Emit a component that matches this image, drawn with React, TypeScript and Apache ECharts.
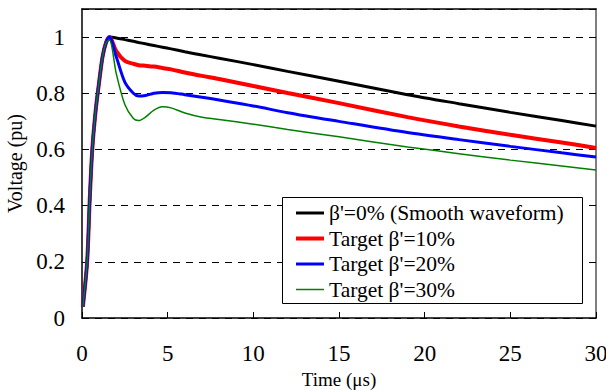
import React, { useEffect, useRef } from "react";
import * as echarts from "echarts";

const times = [0.05, 0.3, 0.45, 0.6, 0.8, 1.0, 1.2, 1.4, 1.6, 2.0, 2.5, 3.0, 3.3, 3.7, 4.2, 4.7, 5.2, 6, 7, 8, 10, 12, 15, 19, 22, 25, 28, 30];

const smooth0 = [0.04, 0.2, 0.42, 0.6, 0.74, 0.84, 0.93, 0.98, 1.0, 0.997, 0.991, 0.985, 0.981, 0.976, 0.97, 0.964, 0.958, 0.948, 0.936, 0.925, 0.902, 0.878, 0.843, 0.795, 0.763, 0.732, 0.703, 0.683];
const target10 = [0.04, 0.2, 0.42, 0.6, 0.74, 0.84, 0.93, 0.98, 1.0, 0.95, 0.915, 0.905, 0.9, 0.898, 0.895, 0.89, 0.885, 0.874, 0.862, 0.851, 0.826, 0.801, 0.765, 0.715, 0.682, 0.652, 0.625, 0.605];
const target20 = [0.04, 0.2, 0.42, 0.6, 0.74, 0.84, 0.93, 0.98, 1.0, 0.93, 0.84, 0.8, 0.79, 0.792, 0.8, 0.803, 0.802, 0.795, 0.786, 0.776, 0.755, 0.731, 0.7, 0.66, 0.635, 0.611, 0.588, 0.573];
const target30 = [0.04, 0.2, 0.42, 0.6, 0.74, 0.84, 0.93, 0.98, 0.99, 0.87, 0.76, 0.71, 0.703, 0.715, 0.74, 0.752, 0.748, 0.73, 0.715, 0.707, 0.69, 0.671, 0.645, 0.609, 0.585, 0.562, 0.541, 0.527];

const seriesNames = ["β'=0% (Smooth waveform)", "Target β'=10%", "Target β'=20%", "Target β'=30%"];
const seriesColors = ["#000000", "#ff0000", "#0000ff", "#008000"];
const seriesWidths = [3, 4, 3, 1.5];
const seriesValues = [smooth0, target10, target20, target30];

const FONT = "Liberation Serif";

export default function App() {
  const ref = useRef<HTMLDivElement>(null);
  useEffect(() => {
    if (!ref.current) return;
    const chart = echarts.init(ref.current, undefined, { renderer: "svg" });
    chart.setOption({
      animation: false,
      backgroundColor: "#ffffff",
      textStyle: { fontFamily: FONT },
      grid: { left: 82, right: 10, top: 9, bottom: 72, outerBoundsMode: "none", containLabel: false },
      xAxis: [
        {
          type: "value",
          min: 0,
          max: 30,
          interval: 5,
          name: "Time (μs)",
          nameLocation: "middle",
          nameGap: 46,
          nameTextStyle: { fontFamily: FONT, fontSize: 19, color: "#000" },
          axisLine: { show: true, lineStyle: { color: "#000", width: 1.5 } },
          axisTick: { show: true, inside: true, length: 6, lineStyle: { color: "#000" } },
          axisLabel: { fontFamily: FONT, fontSize: 23, color: "#000", margin: 24 },
          splitLine: { show: false },
        },
        {
          type: "value",
          position: "top",
          min: 0,
          max: 30,
          interval: 5,
          axisLine: { show: true, onZero: false, lineStyle: { color: "#000", width: 1.5 } },
          axisTick: { show: false },
          axisLabel: { show: false },
          splitLine: { show: false },
        },
      ],
      yAxis: [
        {
          type: "value",
          min: 0,
          max: 1.1,
          interval: 0.2,
          name: "Voltage (pu)",
          nameLocation: "middle",
          nameGap: 55,
          nameTextStyle: { fontFamily: FONT, fontSize: 20, color: "#000" },
          axisLine: { show: true, lineStyle: { color: "#000", width: 1.5 } },
          axisTick: { show: true, inside: true, length: 6, lineStyle: { color: "#000" } },
          axisLabel: { fontFamily: FONT, fontSize: 23, color: "#000", margin: 17, showMaxLabel: false },
          splitLine: { show: true, lineStyle: { color: "#000", type: [7, 6], width: 1 } },
        },
        {
          type: "value",
          position: "right",
          min: 0,
          max: 1.1,
          interval: 0.2,
          axisLine: { show: true, onZero: false, lineStyle: { color: "#808080", width: 2 } },
          axisTick: { show: true, inside: true, length: 6, lineStyle: { color: "#000" } },
          axisLabel: { show: false },
          splitLine: { show: false },
        },
      ],
      legend: {
        left: 296,
        top: 202,
        orient: "vertical",
        padding: 0,
        itemWidth: 28,
        itemHeight: 14,
        itemGap: 3.5,
        z: 10,
        textStyle: { fontFamily: FONT, fontSize: 21.5, color: "#000" },
        data: seriesNames.map((name, i) => ({
          name,
          icon: `path://M0 0H28V${seriesWidths[i]}H0Z`,
          itemStyle: { color: seriesColors[i] },
        })),
      },
      graphic: [
        {
          type: "rect",
          z: 5,
          shape: { x: 282.5, y: 197.5, width: 300, height: 106 },
          style: { fill: "#ffffff", stroke: "#000", lineWidth: 1 },
        },
      ],
      series: seriesNames.map((name, i) => ({
        name,
        type: "line",
        showSymbol: false,
        symbol: "none",
        data: times.map((t, k) => [t, seriesValues[i][k]]),
        smooth: 0.3,
        lineStyle: { color: seriesColors[i], width: seriesWidths[i] },
        itemStyle: { color: seriesColors[i] },
        z: 2 + i * 0.1,
      })),
    });
    return () => chart.dispose();
  }, []);
  return <div ref={ref} style={{ width: 606, height: 390, position: "absolute", left: 0, top: 0 }} />;
}
